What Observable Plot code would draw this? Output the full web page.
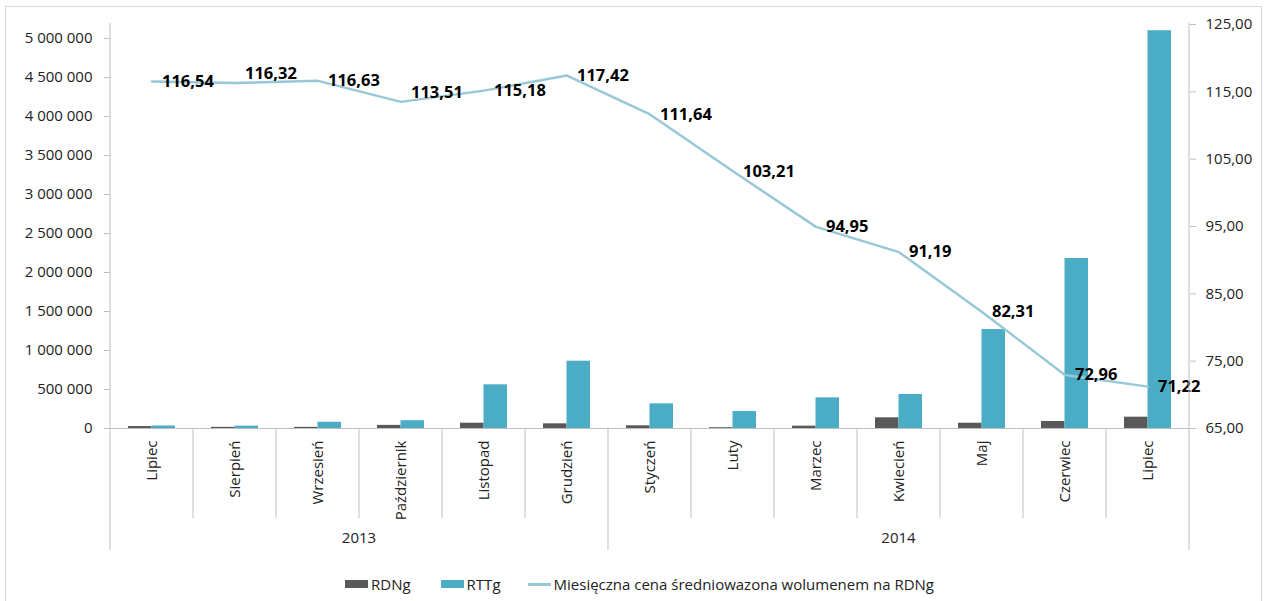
<!DOCTYPE html>
<html>
<head>
<meta charset="utf-8">
<script src="https://cdn.jsdelivr.net/npm/d3@7"></script>
<script src="https://cdn.jsdelivr.net/npm/@observablehq/plot@0.6"></script>
<style>
  html, body { margin: 0; padding: 0; background: #fff; }
  #wrap { position: relative; width: 1265px; height: 601px; overflow: hidden; font-family: "Open Sans", sans-serif; }
  #border { position: absolute; left: 5px; top: 6px; width: 1257px; height: 620px; border: 1px solid #d9d9d9; box-sizing: border-box; }
  #chart { position: absolute; left: 0; top: 0; }
  #legend { position: absolute; top: 574px; left: 345px; display: flex; align-items: center; font-size: 15px; color: #222; white-space: nowrap; }
  .item { display: flex; align-items: center; }
  .sw { display: inline-block; width: 23px; height: 8px; margin-right: 3px; }
  .ln { display: inline-block; width: 23px; height: 3px; margin-right: 3px; }
</style>
</head>
<body>
<div id="wrap">
  <div id="border"></div>
  <div id="chart"></div>
  <div id="legend"></div>
</div>
<script>
// ---- data ----
const months = ["Lipiec", "Sierpień", "Wrzesień", "Październik", "Listopad", "Grudzień", "Styczeń", "Luty", "Marzec", "Kwiecień", "Maj", "Czerwiec", "Lipiec"];
const yearOfMonth = ["2013", "2013", "2013", "2013", "2013", "2013", "2014", "2014", "2014", "2014", "2014", "2014", "2014"];
const years = ["2013", "2014"];
const rdng = [25000, 15000, 15000, 40000, 68000, 60000, 35000, 10000, 30000, 137000, 68000, 90000, 145000];
const rttg = [32000, 30000, 80000, 100000, 560000, 863000, 316000, 218000, 393000, 436000, 1269000, 2180000, 5100000];
const price = [116.54, 116.32, 116.63, 113.51, 115.18, 117.42, 111.64, 103.21, 94.95, 91.19, 82.31, 72.96, 71.22];
const leftTicks = [0, 500000, 1000000, 1500000, 2000000, 2500000, 3000000, 3500000, 4000000, 4500000, 5000000];
const rightTicks = [65, 75, 85, 95, 105, 115, 125];
const leftMax = 5180000;
const rightDomain = [65, 125];
const seriesNames = ["RDNg", "RTTg", "Miesięczna cena średniowazona wolumenem na RDNg"];
const colors = ["#595959", "#4bacc6", "#98c8d8"];

// ---- layout ----
const W = 1265, H = 560, mL = 110, mR = 76, mT = 24, mB = 132;
const bw = (W - mL - mR) / months.length;
const idx = months.map((_, i) => i);
const loc = d3.formatLocale({decimal: ",", thousands: " ", grouping: [3], currency: ["", ""]});
const fmtL = loc.format(",d");
const fmtR = loc.format(".2f");
const toLeft = v => (v - rightDomain[0]) / (rightDomain[1] - rightDomain[0]) * leftMax;
const fromLeft = v => rightDomain[0] + v / leftMax * (rightDomain[1] - rightDomain[0]);

const shifted = new Set([1, 3]);
const txt = "#222";

const plot = Plot.plot({
  width: W, height: H,
  marginLeft: mL, marginRight: mR, marginTop: mT, marginBottom: mB,
  style: {fontFamily: "Open Sans, sans-serif", fontSize: "15px", background: "transparent", overflow: "visible"},
  x: {type: "band", domain: idx, padding: 0},
  y: {domain: [0, leftMax]},
  marks: [
    Plot.axisY({anchor: "left", ticks: leftTicks, tickFormat: fmtL, tickSize: 6, tickPadding: 12, label: null, stroke: "#bfbfbf", fill: txt}),
    Plot.axisY({anchor: "right", ticks: rightTicks.map(toLeft), tickFormat: v => fmtR(fromLeft(v)), tickSize: 6, tickPadding: 10, label: null, stroke: "#bfbfbf", fill: txt}),
    Plot.axisX({ticks: idx, tickFormat: i => months[i], tickRotate: -90, tickSize: 0, tickPadding: 12, label: null, fill: txt}),
    Plot.barY(idx, {x: i => i, y: i => rdng[i], fill: colors[0], insetLeft: 18, insetRight: bw - 41.5}),
    Plot.barY(idx, {x: i => i, y: i => rttg[i], fill: colors[1], insetLeft: 41.5, insetRight: 18}),
    Plot.ruleY([0], {stroke: "#bfbfbf"}),
    Plot.line(idx, {x: i => i, y: i => toLeft(price[i]), stroke: colors[2], strokeWidth: 2.5}),
    Plot.text(idx.filter(i => !shifted.has(i)), {x: i => i, y: i => toLeft(price[i]), text: i => fmtR(price[i]), dx: 10, textAnchor: "start", fontWeight: "bold", fontSize: 16.5, fill: "#000"}),
    Plot.text(idx.filter(i => shifted.has(i)), {x: i => i, y: i => toLeft(price[i]), text: i => fmtR(price[i]), dx: 10, dy: -9, textAnchor: "start", fontWeight: "bold", fontSize: 16.5, fill: "#000"})
  ]
});

// ---- category / year separators drawn with the plot's own scales ----
const xs = plot.scale("x"), ys = plot.scale("y");
const y0 = ys.apply(0);
const g = d3.select(plot).append("g").attr("stroke", "#bfbfbf").attr("stroke-width", 1);
const xEdge = i => i < months.length ? xs.apply(i) : xs.apply(months.length - 1) + xs.bandwidth;
for (let i = 1; i < months.length; i++) {
  if (yearOfMonth[i] !== yearOfMonth[i - 1]) continue;
  g.append("line").attr("x1", xEdge(i)).attr("x2", xEdge(i)).attr("y1", y0).attr("y2", y0 + 90);
}
const yearStarts = [0];
for (let i = 1; i < months.length; i++) if (yearOfMonth[i] !== yearOfMonth[i - 1]) yearStarts.push(i);
yearStarts.push(months.length);
yearStarts.forEach((s, k) => {
  const outer = k === 0 || k === yearStarts.length - 1;
  g.append("line").attr("x1", xEdge(s)).attr("x2", xEdge(s)).attr("y1", outer ? mT - 1 : y0).attr("y2", y0 + 122);
});
const tg = d3.select(plot).append("g").attr("font-size", 15).attr("fill", txt).attr("text-anchor", "middle");
years.forEach((yr, k) => {
  const a = xEdge(yearStarts[k]), b = xEdge(yearStarts[k + 1]);
  tg.append("text").attr("x", (a + b) / 2).attr("y", y0 + 110).attr("dy", "0.32em").text(yr);
});

document.getElementById("chart").appendChild(plot);

// ---- legend ----
const gaps = [30, 27, 0];
const lg = d3.select("#legend");
seriesNames.forEach((n, k) => {
  const it = lg.append("div").attr("class", "item").style("margin-right", gaps[k] + "px");
  it.append("span").attr("class", k < 2 ? "sw" : "ln").style("background", colors[k]);
  it.append("span").text(n);
});
</script>
</body>
</html>
